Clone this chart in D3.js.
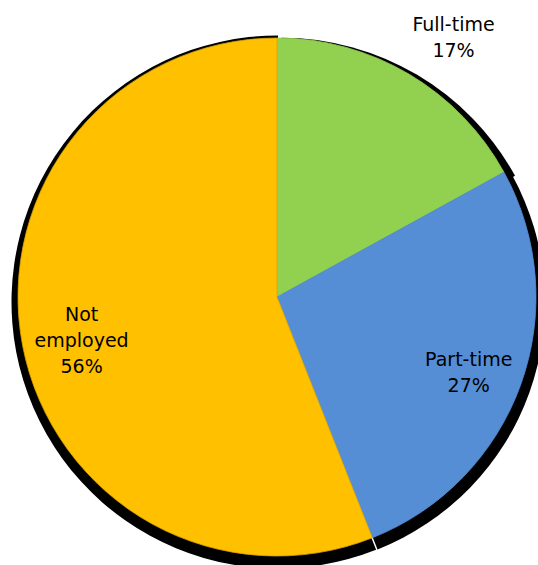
<!DOCTYPE html>
<html>
<head>
<meta charset="utf-8">
<script src="https://cdn.jsdelivr.net/npm/d3@7/dist/d3.min.js"></script>
<style>
  html, body { margin: 0; padding: 0; background: #ffffff; }
  svg { display: block; }
  text { font-family: "Century Gothic", "URW Gothic", "DejaVu Sans", sans-serif; }
</style>
</head>
<body>
<div id="chart"></div>
<script>
// Employment status shares
const categories = ["Full-time", "Part-time", "Not employed"];
const values = [17, 27, 56];
const labelLines = [["Full-time", "17%"], ["Part-time", "27%"], ["Not", "employed", "56%"]];

// Styling per slice
const colors = ["#92D050", "#558ED5", "#FFC000"];
const strokes = ["#92D050", "#558ED5", "#D9A400"];
const labelRadiusFactor = [1.21, 0.795, 0.774];
const labelNudge = [[17, 10], [-2, 5], [1.5, 5]];
const shadowOffset = [[4.5, 7.2], [3, 6], [1, 5]];
const shadowGrow = [7.5, 6, 7.5];

const width = 538, height = 565;
const cx = 277, cy = 297, radius = 259;
const fontSize = 19, lineHeight = 26, capHeight = 14;

const svg = d3.select("#chart").append("svg")
  .attr("width", width)
  .attr("height", height);

const g = svg.append("g").attr("transform", `translate(${cx},${cy})`);

const pie = d3.pie().sort(null).value(d => d.value);
const data = categories.map((c, i) => ({ name: c, value: values[i], i }));
const arcs = pie(data);

const arc = d3.arc().innerRadius(0).outerRadius(radius);

// Drop shadows behind each slice
g.selectAll("path.shadow")
  .data(arcs)
  .join("path")
  .attr("class", "shadow")
  .attr("fill", "#000")
  .attr("transform", d => `translate(${shadowOffset[d.data.i][0]},${shadowOffset[d.data.i][1]})`)
  .attr("d", d => d3.arc().innerRadius(0).outerRadius(radius + shadowGrow[d.data.i])(d));

// Slices
g.selectAll("path.slice")
  .data(arcs)
  .join("path")
  .attr("class", "slice")
  .attr("fill", d => colors[d.data.i])
  .attr("stroke", d => strokes[d.data.i])
  .attr("stroke-width", 0.8)
  .attr("d", arc);

// Labels
g.selectAll("text.label")
  .data(arcs)
  .join("text")
  .attr("class", "label")
  .attr("text-anchor", "middle")
  .attr("font-size", fontSize)
  .attr("fill", "#000")
  .each(function (d) {
    const k = labelRadiusFactor[d.data.i];
    const [x0, y0] = d3.arc().innerRadius(radius * k).outerRadius(radius * k).centroid(d);
    const x = x0 + labelNudge[d.data.i][0];
    const y = y0 + labelNudge[d.data.i][1];
    const lines = labelLines[d.data.i];
    const blockH = (lines.length - 1) * lineHeight + capHeight;
    const firstBaseline = y - blockH / 2 + capHeight;
    const t = d3.select(this);
    lines.forEach((ln, j) => {
      t.append("tspan")
        .attr("x", x)
        .attr("y", firstBaseline + j * lineHeight)
        .text(ln);
    });
  });
</script>
</body>
</html>
